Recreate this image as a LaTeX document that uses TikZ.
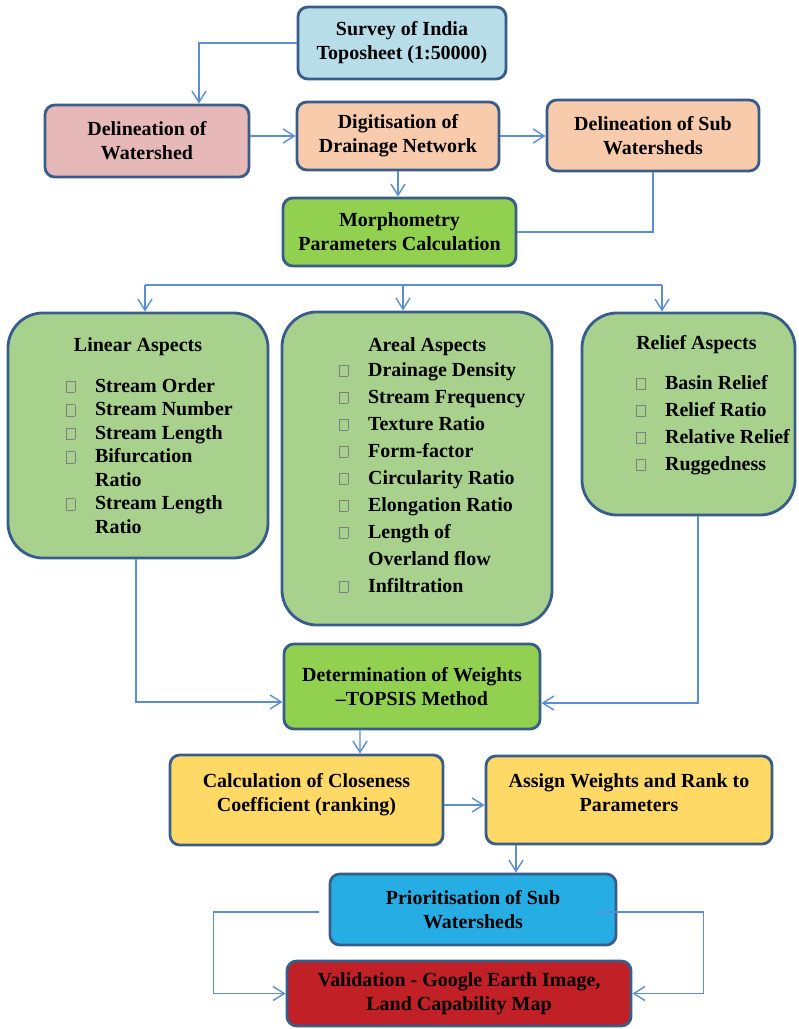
\documentclass[tikz,border=0pt]{standalone}
\usepackage{fontspec}
\setmainfont{Liberation Serif}
\usetikzlibrary{arrows.meta,calc}
\definecolor{edgeblue}{RGB}{56,93,138}
\definecolor{linkblue}{RGB}{91,142,210}
\definecolor{skyfill}{RGB}{183,221,232}
\definecolor{rosefill}{RGB}{230,185,184}
\definecolor{peachfill}{RGB}{248,203,173}
\definecolor{limefill}{RGB}{146,208,80}
\definecolor{sagefill}{RGB}{169,209,142}
\definecolor{goldfill}{RGB}{255,217,102}
\definecolor{cyanfill}{RGB}{38,173,228}
\definecolor{redfill}{RGB}{192,32,38}
\newcommand{\tickbox}{\textcolor{gray}{\fboxsep=0pt\fboxrule=0.5pt\fbox{\rule{0pt}{7.5pt}\hspace{5.5pt}}}}
\newcommand{\aitem}[1]{\makebox[20.5pt][l]{\tickbox}#1}
\newcommand{\acont}[1]{\hspace*{20.5pt}#1}
\tikzset{
  flowbox/.style={draw=edgeblue, line width=2pt, rounded corners=7pt, inner sep=0pt,
    align=center, font=\fontsize{14.2}{17}\selectfont\bfseries},
  aspect/.style={draw=edgeblue, line width=2pt, rounded corners=25pt, fill=sagefill, inner sep=0pt},
  aspecttitle/.style={inner sep=0pt, font=\fontsize{14.2}{17}\selectfont\bfseries},
  aspectlist/.style={inner sep=0pt, align=left, anchor=north west},
  link/.style={draw=linkblue, line width=1pt},
  linkarrow/.style={link, -{Straight Barb[length=8pt,width=10pt]}}
}

\begin{document}
\begin{tikzpicture}[x=0.025cm,y=-0.025cm]
  \useasboundingbox (0,0) rectangle (798,1029);
  \node[flowbox, fill=skyfill, minimum width=5.2cm, minimum height=1.8cm] (survey) at (402,43) {Survey of India\\Toposheet (1:50000)};
  \node[flowbox, fill=rosefill, minimum width=5.1cm, minimum height=1.8cm] (delin) at (147,141) {Delineation of\\Watershed};
  \node[flowbox, fill=peachfill, minimum width=5.05cm, minimum height=1.7cm] (digit) at (398,136) {Digitisation of\\Drainage Network};
  \node[flowbox, fill=peachfill, minimum width=5.3cm, minimum height=1.775cm] (subws) at (653,135.5) {Delineation of Sub\\Watersheds};
  \node[flowbox, fill=limefill, minimum width=5.825cm, minimum height=1.7cm] (morph) at (399.5,232) {Morphometry\\Parameters Calculation};
  % aspect boxes
  \node[aspect, minimum width=6.5cm, minimum height=6.125cm] (linear) at (138,435.5) {};
  \node[aspect, minimum width=6.75cm, minimum height=7.825cm] (areal) at (417,468.5) {};
  \node[aspect, minimum width=5.325cm, minimum height=5.05cm] (relief) at (688.5,414) {};
  \node[aspecttitle] (linearTitle) at (138,347) {Linear Aspects};
  \node[aspectlist, font=\fontsize{14.2}{16.7}\selectfont\bfseries] (linearList) at (66,378)
    {\aitem{Stream Order}\\\aitem{Stream Number}\\\aitem{Stream Length}\\\aitem{Bifurcation}\\\acont{Ratio}\\\aitem{Stream Length}\\\acont{Ratio}};
  \node[aspecttitle, anchor=west] (arealTitle) at (368,347) {Areal Aspects};
  \node[aspectlist, font=\fontsize{14.2}{19.2}\selectfont\bfseries] (arealList) at (339,362)
    {\aitem{Drainage Density}\\\aitem{Stream Frequency}\\\aitem{Texture Ratio}\\\aitem{Form-factor}\\\aitem{Circularity Ratio}\\\aitem{Elongation Ratio}\\\aitem{Length of}\\\acont{Overland flow}\\\aitem{Infiltration}};
  \node[aspecttitle, anchor=west] (reliefTitle) at (636,345) {Relief Aspects};
  \node[aspectlist, font=\fontsize{14.2}{19.2}\selectfont\bfseries] (reliefList) at (636,375)
    {\aitem{Basin Relief}\\\aitem{Relief Ratio}\\\aitem{Relative Relief}\\\aitem{Ruggedness}};
  % lower chain
  \node[flowbox, fill=limefill, minimum width=6.4cm, minimum height=2.125cm] (determ) at (412,686.5) {Determination of Weights\\--TOPSIS Method};
  \node[flowbox, fill=goldfill, minimum width=6.825cm, minimum height=2.25cm, text depth=11pt] (calc) at (306.5,800) {Calculation of Closeness\\Coefficient (ranking)};
  \node[flowbox, fill=goldfill, minimum width=7.15cm, minimum height=2.2cm, text depth=11pt] (assign) at (629,800) {Assign Weights and Rank to\\Parameters};
  \node[flowbox, fill=cyanfill, minimum width=7.15cm, minimum height=1.775cm] (prior) at (473,909.5) {Prioritisation of Sub\\Watersheds};
  \node[flowbox, fill=redfill, minimum width=8.6cm, minimum height=1.625cm] (valid) at (459,993.5) {Validation - Google Earth Image,\\Land Capability Map};

  \draw[linkarrow] (survey.west) -| ($(delin.north)+(52,0)$);
  \draw[linkarrow] (delin.east |- digit.west) -- (digit.west);
  \draw[linkarrow] (digit.east) -- (digit.east -| subws.west);
  \draw[linkarrow] (digit.south) -- (digit.south |- morph.north);
  \draw[link] (subws.south) |- (morph.east);
  \coordinate (forkL) at (145,285);
  \coordinate (forkM) at (403,285);
  \coordinate (forkR) at (662,285);
  \draw[link] (forkL) -- (forkR);
  \draw[linkarrow] (forkL) -- (forkL |- linear.north);
  \draw[linkarrow] (forkM) -- (forkM |- areal.north);
  \draw[linkarrow] (forkR) -- (forkR |- relief.north);
  \draw[linkarrow] ($(linear.south)+(-2,0)$) |- ($(determ.west)+(0,15.5)$);
  \draw[linkarrow] ($(relief.south)+(9.5,0)$) |- ($(determ.east)+(0,16.5)$);
  \draw[linkarrow] ($(determ.south)+(-52,0)$) -- ($(calc.north)+(53.5,0)$);
  \draw[linkarrow] ($(calc.east)+(0,5)$) -- ($(assign.west)+(0,5)$);
  \draw[linkarrow] ($(assign.south)+(-113,0)$) -- ($(prior.north)+(43,0)$);
  \draw[linkarrow] ($(prior.west)+(-10,2.5)$) -- ++(-105,0) |- (valid.west);
  \draw[linkarrow] ($(prior.east)+(-20,2.5)$) -- ++(106,0) |- (valid.east);
\end{tikzpicture}
\end{document}
